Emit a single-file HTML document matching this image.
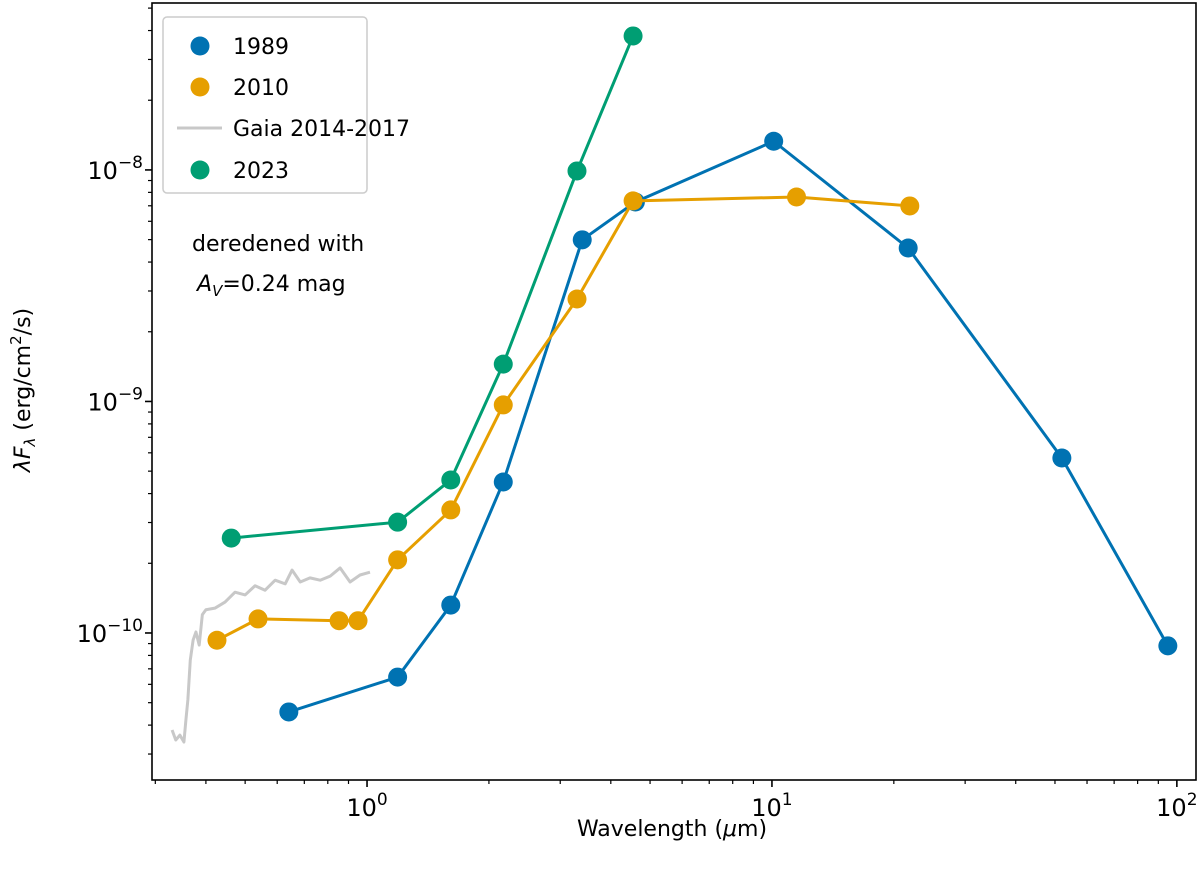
<!DOCTYPE html>
<html><head><meta charset="utf-8"><style>
html,body{margin:0;padding:0;background:#fff;}
svg{display:block;font-family:"DejaVu Sans","Liberation Sans",sans-serif;}
</style></head><body>
<svg id="chart" width="1200" height="871"></svg>
<script>
const blueX=[0.641,1.19,1.61,2.17,3.4,4.6,10.1,21.7,52,95];
const blueY=[4.56e-11,6.45e-11,1.32e-10,4.49e-10,4.99e-9,7.27e-9,1.33e-8,4.6e-9,5.7e-10,8.8e-11];
const orangeX=[0.426,0.538,0.853,0.95,1.19,1.61,2.17,3.3,4.54,11.5,21.9];
const orangeY=[9.3e-11,1.15e-10,1.13e-10,1.13e-10,2.07e-10,3.4e-10,9.66e-10,2.77e-9,7.35e-9,7.64e-9,6.99e-9];
const greenX=[0.462,1.19,1.61,2.17,3.3,4.54];
const greenY=[2.57e-10,3.01e-10,4.58e-10,1.45e-9,9.9e-9,3.79e-8];
const gaiaX=[0.330,0.337,0.345,0.353,0.357,0.361,0.366,0.372,0.378,0.385,0.392,0.400,0.421,0.446,0.472,0.500,0.529,0.560,0.593,0.628,0.653,0.684,0.723,0.766,0.811,0.858,0.908,0.961,1.017];
const gaiaY=[3.81e-11,3.45e-11,3.62e-11,3.38e-11,4.21e-11,5.14e-11,7.64e-11,9.33e-11,1.01e-10,8.87e-11,1.20e-10,1.26e-10,1.28e-10,1.36e-10,1.50e-10,1.46e-10,1.60e-10,1.53e-10,1.69e-10,1.63e-10,1.87e-10,1.66e-10,1.73e-10,1.69e-10,1.76e-10,1.91e-10,1.66e-10,1.78e-10,1.83e-10];
const xTickExp=[0,1,2];
const yTickExp=[-10,-9,-8];

const NS="http://www.w3.org/2000/svg";
const svg=document.getElementById('chart');
const L=152,R=1196,T=3,B=780;
const xmin=Math.log10(0.2944),xmax=Math.log10(111.5);
const ymin=-10.635,ymax=-7.279;
const X=v=>L+(Math.log10(v)-xmin)/(xmax-xmin)*(R-L);
const Y=v=>B-(Math.log10(v)-ymin)/(ymax-ymin)*(B-T);
function mk(tag,attrs,parent){const e=document.createElementNS(NS,tag);for(const k in attrs)e.setAttribute(k,attrs[k]);(parent||svg).appendChild(e);return e;}

const axes=mk('g',{});


for(let e=-1;e<=2;e++){for(let m=1;m<10;m++){const v=m*Math.pow(10,e);if(v<0.2944||v>111.5)continue;const x=X(v);mk('line',{x1:x,x2:x,y1:B,y2:B+(m===1?7:4),stroke:'#000','stroke-width':m===1?1.6:1.2},axes);}}
for(let e=-11;e<=-7;e++){for(let m=1;m<10;m++){const lv=Math.log10(m)+e;if(lv<ymin||lv>ymax)continue;const y=Y(m*Math.pow(10,e));mk('line',{x1:L,x2:L-(m===1?7:4),y1:y,y2:y,stroke:'#000','stroke-width':m===1?1.6:1.2},axes);}}
xTickExp.forEach(e=>{const t=mk('text',{x:X(Math.pow(10,e)),y:816,'text-anchor':'middle','font-size':24},axes);t.innerHTML='10<tspan dy="-11" font-size="17">'+e+'</tspan>';});
yTickExp.forEach(e=>{const t=mk('text',{x:143,y:Y(Math.pow(10,e))+9,'text-anchor':'end','font-size':24},axes);t.innerHTML='10<tspan dy="-11" font-size="17">\u2212'+Math.abs(e)+'</tspan>';});

function series(xs,ys,color,name,markers,w){
  const g=mk('g',{});
  
  
  mk('polyline',{points:xs.map((x,i)=>X(x)+','+Y(ys[i])).join(' '),fill:'none',stroke:color,'stroke-width':w,'stroke-linejoin':'round'},g);
  if(markers)xs.forEach((x,i)=>{const c=mk('circle',{cx:X(x),cy:Y(ys[i]),r:9.5,fill:color},g);});
}
series(gaiaX,gaiaY,'#c8c8c8','series-gaia',false,3);
series(blueX,blueY,'#0072B2','series-1989',true,3);
series(orangeX,orangeY,'#E69F00','series-2010',true,3);
series(greenX,greenY,'#009E73','series-2023',true,3);
mk('rect',{x:L,y:T,width:R-L,height:B-T,fill:'none',stroke:'#000','stroke-width':1.6},axes);
</script>
<svg width="1200" height="871" style="position:absolute;left:0;top:0;font-family:'DejaVu Sans','Liberation Sans',sans-serif">
<g>
<rect x="163" y="17" width="204" height="176" rx="4" fill="#fff" fill-opacity="0.85" stroke="#ccc" stroke-width="1.5"/>
<circle cx="200" cy="46" r="9.5" fill="#0072B2"/><text x="233" y="54" font-size="22">1989</text>
<circle cx="200" cy="87" r="9.5" fill="#E69F00"/><text x="233" y="95" font-size="22">2010</text>
<line x1="177" x2="222" y1="128" y2="128" stroke="#c8c8c8" stroke-width="3"/><text x="233" y="136" font-size="22">Gaia 2014-2017</text>
<circle cx="200" cy="170" r="9.5" fill="#009E73"/><text x="233" y="178" font-size="22">2023</text>
</g>
<text x="192" y="251" font-size="22">deredened with</text>
<text x="197" y="291" font-size="22"><tspan font-style="italic">A</tspan><tspan font-style="italic" font-size="15" dy="5">V</tspan><tspan dy="-5">=0.24 mag</tspan></text>
<text x="672" y="836" text-anchor="middle" font-size="22">Wavelength (<tspan font-style="italic">μ</tspan>m)</text>
<text transform="translate(30,390) rotate(-90)" text-anchor="middle" font-size="22"><tspan font-style="italic">λF</tspan><tspan font-style="italic" font-size="15" dy="5">λ</tspan><tspan dy="-5"> (erg/cm</tspan><tspan font-size="15" dy="-9">2</tspan><tspan dy="9">/s)</tspan></text>
</svg>
</body></html>
